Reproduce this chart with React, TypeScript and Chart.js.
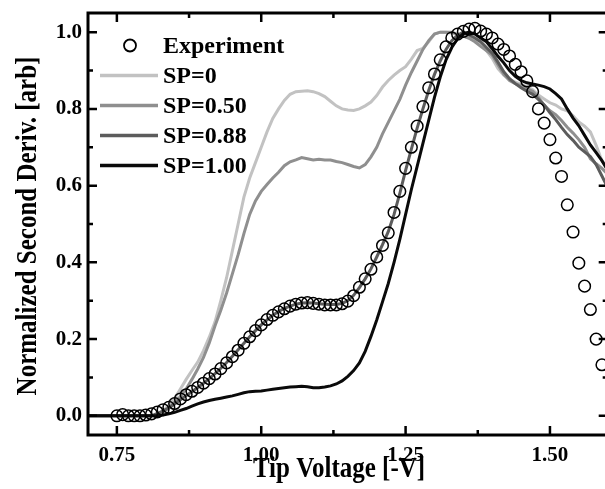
import React, { useEffect, useRef } from "react";
import { Chart, registerables } from "chart.js";

Chart.register(...registerables);

const lineVoltages = [
  0.70, 0.71, 0.72, 0.73, 0.74, 0.75, 0.76, 0.77, 0.78, 0.79,
  0.80, 0.81, 0.82, 0.83, 0.84, 0.85, 0.86, 0.87, 0.88, 0.89,
  0.90, 0.91, 0.92, 0.93, 0.94, 0.95, 0.96, 0.97, 0.98, 0.99,
  1.00, 1.01, 1.02, 1.03, 1.04, 1.05, 1.06, 1.07, 1.08, 1.09,
  1.10, 1.11, 1.12, 1.13, 1.14, 1.15, 1.16, 1.17, 1.18, 1.19,
  1.20, 1.21, 1.22, 1.23, 1.24, 1.25, 1.26, 1.27, 1.28, 1.29,
  1.30, 1.31, 1.32, 1.33, 1.34, 1.35, 1.36, 1.37, 1.38, 1.39,
  1.40, 1.41, 1.42, 1.43, 1.44, 1.45, 1.46, 1.47, 1.48, 1.49,
  1.50, 1.51, 1.52, 1.53, 1.54, 1.55, 1.56, 1.57, 1.58, 1.59,
  1.60,
];

const sp0 = [
  0, 0, 0, 0, 0, 0, 0, 0, 0, 0,
  0, 0, 0, 0.012, 0.028, 0.045, 0.07, 0.095, 0.118, 0.14,
  0.17, 0.205, 0.245, 0.30, 0.36, 0.43, 0.50, 0.57, 0.62, 0.66,
  0.70, 0.74, 0.775, 0.80, 0.822, 0.838, 0.845, 0.846, 0.847, 0.845,
  0.84, 0.832, 0.82, 0.808, 0.80, 0.797, 0.796, 0.80, 0.808, 0.818,
  0.835, 0.857, 0.874, 0.888, 0.90, 0.91, 0.93, 0.952, 0.958, 0.975,
  0.995, 1.0, 1.0, 0.998, 0.993, 0.99, 0.985, 0.977, 0.967, 0.952,
  0.932, 0.905, 0.888, 0.877, 0.87, 0.864, 0.858, 0.85, 0.836, 0.826,
  0.816, 0.81, 0.80, 0.795, 0.782, 0.766, 0.755, 0.74, 0.705, 0.665,
  0.645,
];

const sp050 = [
  0, 0, 0, 0, 0, 0, 0, 0, 0, 0,
  0, 0, 0, 0.01, 0.02, 0.035, 0.05, 0.07, 0.095, 0.122,
  0.152, 0.19, 0.235, 0.275, 0.32, 0.37, 0.42, 0.475, 0.525, 0.56,
  0.585, 0.603, 0.62, 0.635, 0.652, 0.662, 0.667, 0.673, 0.67, 0.667,
  0.669, 0.667, 0.667, 0.663, 0.66, 0.655, 0.65, 0.646, 0.655, 0.675,
  0.70, 0.735, 0.765, 0.795, 0.825, 0.862, 0.895, 0.925, 0.955, 0.978,
  0.995, 1.0, 1.0, 1.0, 0.995, 0.99, 0.984, 0.975, 0.963, 0.952,
  0.94, 0.915, 0.89, 0.874, 0.866, 0.86, 0.853, 0.846, 0.83, 0.81,
  0.795, 0.785, 0.77, 0.752, 0.737, 0.72, 0.70, 0.67, 0.657, 0.645,
  0.63,
];

const sp088 = [
  0, 0, 0, 0, 0, 0, 0, 0, 0, 0,
  0, 0, 0.006, 0.013, 0.021, 0.031, 0.042, 0.053, 0.063, 0.074,
  0.085, 0.097, 0.11, 0.124, 0.139, 0.155, 0.172, 0.189, 0.206, 0.222,
  0.237, 0.25, 0.262, 0.272, 0.28, 0.286, 0.291, 0.294, 0.295, 0.294,
  0.292, 0.291, 0.29, 0.29, 0.293, 0.30, 0.314, 0.334, 0.357, 0.383,
  0.414, 0.446, 0.48, 0.525, 0.58, 0.64, 0.695, 0.75, 0.80, 0.848,
  0.89, 0.925, 0.955, 0.978, 0.992, 1.0, 0.993, 0.985, 0.975, 0.96,
  0.945, 0.922, 0.897, 0.879, 0.866, 0.855, 0.846, 0.838, 0.825, 0.81,
  0.79, 0.772, 0.752, 0.733, 0.718, 0.70, 0.688, 0.676, 0.655, 0.625,
  0.595,
];

const sp100 = [
  0, 0, 0, 0, 0, 0, 0, 0, 0, 0,
  0, 0, 0, 0.002, 0.005, 0.009, 0.014, 0.019, 0.025, 0.031,
  0.036, 0.04, 0.043, 0.046, 0.049, 0.052, 0.056, 0.06, 0.063, 0.064,
  0.065, 0.067, 0.069, 0.071, 0.073, 0.075, 0.076, 0.077, 0.076, 0.073,
  0.073, 0.075, 0.078, 0.083, 0.091, 0.103, 0.118, 0.138, 0.168, 0.207,
  0.25, 0.297, 0.345, 0.40, 0.46, 0.525, 0.59, 0.65, 0.71, 0.77,
  0.83, 0.883, 0.928, 0.96, 0.983, 0.996, 1.0, 0.995, 0.985, 0.975,
  0.957, 0.937, 0.92, 0.9, 0.885, 0.874, 0.868, 0.865, 0.862, 0.858,
  0.852, 0.84, 0.826, 0.80, 0.776, 0.756, 0.731, 0.706, 0.686, 0.665,
  0.64,
];

const expVoltages = [
  0.75, 0.76, 0.77, 0.78, 0.79,
  0.80, 0.81, 0.82, 0.83, 0.84, 0.85, 0.86, 0.87, 0.88, 0.89,
  0.90, 0.91, 0.92, 0.93, 0.94, 0.95, 0.96, 0.97, 0.98, 0.99,
  1.00, 1.01, 1.02, 1.03, 1.04, 1.05, 1.06, 1.07, 1.08, 1.09,
  1.10, 1.11, 1.12, 1.13, 1.14, 1.15, 1.16, 1.17, 1.18, 1.19,
  1.20, 1.21, 1.22, 1.23, 1.24, 1.25, 1.26, 1.27, 1.28, 1.29,
  1.30, 1.31, 1.32, 1.33, 1.34, 1.35, 1.36, 1.37, 1.38, 1.39,
  1.40, 1.41, 1.42, 1.43, 1.44, 1.45, 1.46, 1.47, 1.48, 1.49,
  1.50, 1.51, 1.52, 1.53, 1.54, 1.55, 1.56, 1.57, 1.58, 1.59,
];

const experiment = [
  0.0, 0.003, 0.0, 0.0, 0.0,
  0.002, 0.005, 0.01, 0.016, 0.022, 0.032, 0.044, 0.055, 0.064, 0.074,
  0.085, 0.097, 0.109, 0.123, 0.138, 0.154, 0.171, 0.189, 0.206, 0.222,
  0.237, 0.251, 0.262, 0.271, 0.279, 0.286, 0.291, 0.294, 0.295, 0.293,
  0.291, 0.289, 0.289, 0.289, 0.292, 0.299, 0.313, 0.335, 0.357, 0.382,
  0.414, 0.444, 0.477, 0.53, 0.585, 0.645, 0.70, 0.755, 0.806, 0.855,
  0.891, 0.928, 0.962, 0.985, 0.995, 1.002, 1.008, 1.01, 1.003, 0.995,
  0.985, 0.969, 0.955, 0.938, 0.916, 0.897, 0.873, 0.845, 0.80, 0.763,
  0.72, 0.672, 0.624, 0.55, 0.479, 0.398, 0.338, 0.277, 0.20, 0.133,
];

const seriesLabels = ["Experiment", "SP=0", "SP=0.50", "SP=0.88", "SP=1.00"];
const seriesColors = ["#000000", "#c2c2c2", "#8f8f8f", "#5c5c5c", "#0a0a0a"];

const xTickValues = [0.75, 1.0, 1.25, 1.5];
const xMinorTicks = [0.875, 1.125, 1.375];
const yTickValues = [0.0, 0.2, 0.4, 0.6, 0.8, 1.0];
const yMinorTicks = [0.1, 0.3, 0.5, 0.7, 0.9];

const xTitle = "Tip Voltage [-V]";
const yTitle = "Normalized Second Deriv. [arb]";

const FONT = "'Liberation Serif', 'Times New Roman', serif";
const CANVAS_W = 615;
const CANVAS_H = 489;

function pts(xs: number[], ys: number[]) {
  return xs.map((x, i) => ({ x, y: ys[i] }));
}

const framePlugin = {
  id: "framePlugin",
  afterDraw(chart: any) {
    const { ctx, chartArea } = chart;
    const xs = chart.scales.x;
    const ys = chart.scales.y;
    const { left, right, top, bottom } = chartArea;
    ctx.save();
    ctx.strokeStyle = "#000";
    ctx.lineWidth = 3;
    ctx.strokeRect(left, top, right - left, bottom - top);
    ctx.lineWidth = 2.5;
    const drawX = (vals: number[], len: number) => {
      vals.forEach((v) => {
        const px = xs.getPixelForValue(v);
        ctx.beginPath();
        ctx.moveTo(px, bottom);
        ctx.lineTo(px, bottom - len);
        ctx.moveTo(px, top);
        ctx.lineTo(px, top + len);
        ctx.stroke();
      });
    };
    const drawY = (vals: number[], len: number) => {
      vals.forEach((v) => {
        const py = ys.getPixelForValue(v);
        ctx.beginPath();
        ctx.moveTo(left, py);
        ctx.lineTo(left + len, py);
        ctx.moveTo(right, py);
        ctx.lineTo(right - len, py);
        ctx.stroke();
      });
    };
    drawX(xTickValues, 9);
    drawX(xMinorTicks, 5);
    drawY(yTickValues, 9);
    drawY(yMinorTicks, 5);

    // axis titles
    ctx.fillStyle = "#000";
    ctx.font = `bold 25px ${FONT}`;
    ctx.textAlign = "center";
    ctx.textBaseline = "alphabetic";
    ctx.save();
    ctx.translate(339, 477);
    ctx.scale(1, 1.15);
    ctx.fillText(xTitle, 0, 0);
    ctx.restore();
    ctx.save();
    ctx.translate(36, 226);
    ctx.rotate(-Math.PI / 2);
    ctx.scale(1, 1.15);
    ctx.fillText(yTitle, 0, 0);
    ctx.restore();

    // legend
    const ds = chart.data.datasets;
    const baselines = [53, 83, 113, 143, 173];
    ctx.font = `bold 24px ${FONT}`;
    ctx.textAlign = "left";
    ds.forEach((d: any, i: number) => {
      const cy = baselines[i] - 7.5;
      if (i === 0) {
        ctx.beginPath();
        ctx.lineWidth = 1.8;
        ctx.strokeStyle = d.borderColor;
        ctx.arc(130, cy, 6, 0, Math.PI * 2);
        ctx.stroke();
      } else {
        ctx.beginPath();
        ctx.lineWidth = 3.5;
        ctx.strokeStyle = d.borderColor;
        ctx.moveTo(100, cy);
        ctx.lineTo(158, cy);
        ctx.stroke();
      }
      ctx.fillStyle = "#000";
      ctx.fillText(d.label, 163, baselines[i]);
    });
    ctx.restore();
  },
};

export default function App() {
  const ref = useRef<HTMLCanvasElement | null>(null);

  useEffect(() => {
    if (!ref.current) return;
    const lineDs = (label: string, color: string, ys: number[], w: number) => ({
      type: "line" as const,
      label,
      data: pts(lineVoltages, ys),
      borderColor: color,
      backgroundColor: color,
      borderWidth: w,
      pointRadius: 0,
      fill: false,
      tension: 0,
    });
    const chart = new Chart(ref.current, {
      type: "scatter",
      data: {
        datasets: [
          {
            type: "scatter" as const,
            label: seriesLabels[0],
            data: pts(expVoltages, experiment),
            borderColor: seriesColors[0],
            backgroundColor: "rgba(0,0,0,0)",
            pointRadius: 5.8,
            pointBorderWidth: 1.5,
            pointStyle: "circle",
            showLine: false,
            order: 0,
          } as any,
          { ...lineDs(seriesLabels[1], seriesColors[1], sp0, 3), order: 4 },
          { ...lineDs(seriesLabels[2], seriesColors[2], sp050, 3), order: 3 },
          { ...lineDs(seriesLabels[3], seriesColors[3], sp088, 3), order: 2 },
          { ...lineDs(seriesLabels[4], seriesColors[4], sp100, 3), order: 1 },
        ],
      },
      options: {
        animation: false,
        responsive: false,
        maintainAspectRatio: false,
        layout: { padding: { left: 0, right: CANVAS_W - 609, top: 13, bottom: 0 } },
        plugins: {
          legend: { display: false },
          tooltip: { enabled: false },
          title: { display: false },
        },
        scales: {
          x: {
            type: "linear",
            min: 0.7,
            max: 1.6,
            grid: { display: false, drawTicks: false },
            border: { display: false },
            afterBuildTicks: (s: any) => {
              s.ticks = xTickValues.map((v) => ({ value: v }));
            },
            afterFit: (s: any) => {
              s.height = CANVAS_H - 435;
              s.paddingLeft = 0;
              s.paddingRight = 0;
            },
            ticks: {
              padding: 8,
              color: "#000",
              font: { family: FONT, size: 21, weight: "bold" },
              maxRotation: 0,
              autoSkip: false,
              callback: (v: any) => Number(v).toFixed(2),
            },
          },
          y: {
            type: "linear",
            min: -0.05,
            max: 1.05,
            grid: { display: false, drawTicks: false },
            border: { display: false },
            afterBuildTicks: (s: any) => {
              s.ticks = yTickValues.map((v) => ({ value: v }));
            },
            afterFit: (s: any) => {
              s.width = 88;
              s.paddingTop = 0;
              s.paddingBottom = 0;
            },
            ticks: {
              padding: 6,
              color: "#000",
              font: { family: FONT, size: 21, weight: "bold" },
              autoSkip: false,
              callback: (v: any) => Number(v).toFixed(1),
            },
          },
        },
      } as any,
      plugins: [framePlugin],
    });
    return () => chart.destroy();
  }, []);

  return (
    <div
      style={{
        position: "fixed",
        left: 0,
        top: 0,
        width: 605,
        height: 489,
        overflow: "hidden",
        background: "#fff",
      }}
    >
      <canvas ref={ref} width={CANVAS_W} height={CANVAS_H} style={{ display: "block" }} />
    </div>
  );
}
